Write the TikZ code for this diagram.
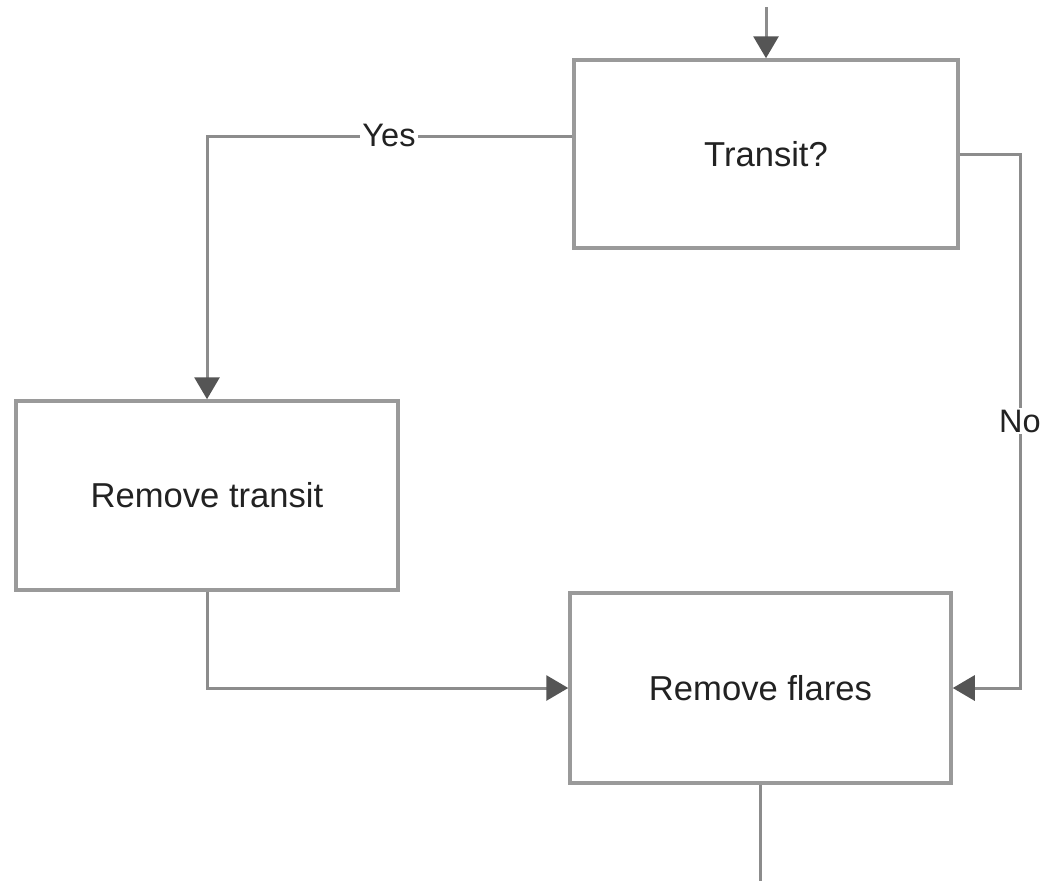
\documentclass[tikz,border=0pt]{standalone}
\usepackage{fontspec}
\setmainfont{Liberation Sans}
\usetikzlibrary{arrows.meta}
\definecolor{boxline}{HTML}{9A9A9A}
\definecolor{conline}{HTML}{8C8C8C}
\definecolor{tipcol}{HTML}{555555}
\definecolor{txt}{HTML}{222222}
\tikzset{
  stepbox/.style={draw=boxline, line width=3.5pt, fill=white, minimum width=#1, minimum height=189pt, inner sep=0pt, text=txt, font=\fontsize{34.6}{40}\selectfont},
  conn/.style={draw=conline, line width=3pt},
  arr/.style={conn, -{Triangle[width=25pt,length=22pt,fill=tipcol,color=tipcol]}},
  lbl/.style={fill=white, inner sep=2pt, text=txt, font=\fontsize{32.5}{38}\selectfont}
}
\begin{document}
\begin{tikzpicture}[x=1pt,y=-1pt]
\useasboundingbox (0,0) rectangle (1046,881);
\node[stepbox=384pt, minimum height=188pt] (t) at (766,154) {Transit?};
\node[stepbox=382pt] (rt) at (207,495.5) {Remove transit};
\node[stepbox=381pt, minimum height=190pt] (rf) at (760.5,688) {Remove flares};
\coordinate (in) at (766,7);
\coordinate (out) at (760.5,881);
\coordinate (nc) at (1020,154);
\draw[arr] (in) -- (t.north);
\draw[arr] ([yshift=18pt]t.west) -| (rt.north);
\node[lbl] (yes) at (389,135) {Yes};
\draw[arr] (t.east) -- (nc) |- (rf.east);
\node[lbl] (no) at (1020,421) {No};
\draw[arr] (rt.south) |- (rf.west);
\draw[conn] (rf.south) -- (out);
\end{tikzpicture}
\end{document}
